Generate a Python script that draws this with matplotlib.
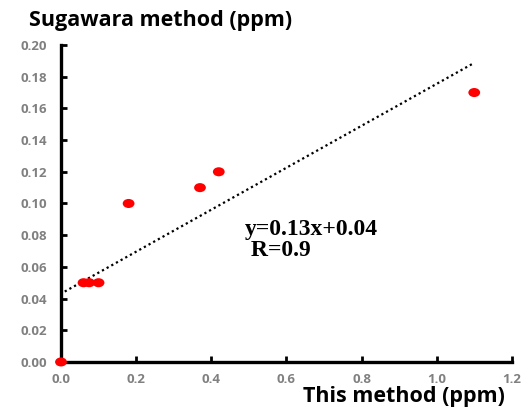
import matplotlib
matplotlib.use("Agg")
import matplotlib.pyplot as plt
import numpy as np
from matplotlib.path import Path
from matplotlib.transforms import Affine2D

# data
this_method = [0.0, 0.06, 0.075, 0.10, 0.18, 0.37, 0.42, 1.10]
sugawara = [0.0, 0.05, 0.05, 0.05, 0.10, 0.11, 0.12, 0.17]
x_ticks = [0.0, 0.2, 0.4, 0.6, 0.8, 1.0, 1.2]
y_ticks = [0.00, 0.02, 0.04, 0.06, 0.08, 0.10, 0.12, 0.14, 0.16, 0.18, 0.20]

plt.rcParams["font.family"] = ["Open Sans", "DejaVu Sans"]

fig = plt.figure(figsize=(5.23, 4.09), dpi=100)
ax = fig.add_axes([0.1166, 0.115, 0.862, 0.775])

# linear fit (dotted trend line)
slope, inter = np.polyfit(this_method, sugawara, 1)
xf = np.array([0.01, max(this_method)])
ax.plot(xf, slope * xf + inter, color="black", linestyle=(0, (1, 1.4)), linewidth=1.6)

# slightly wide ellipse markers
ell = Path.unit_circle().transformed(Affine2D().scale(1.3, 1.0))
ax.scatter(this_method, sugawara, s=72, marker=ell, color="#ff0000",
           edgecolors="none", zorder=3, clip_on=False)

ax.set_xlim(0, 1.2)
ax.set_ylim(0, 0.2)
ax.set_xticks(x_ticks)
ax.set_yticks(y_ticks)
ax.set_xticklabels(["%.1f" % v for v in x_ticks])
ax.set_yticklabels(["%.2f" % v for v in y_ticks])

for s in ["top", "right"]:
    ax.spines[s].set_visible(False)
for s in ["left", "bottom"]:
    ax.spines[s].set_linewidth(2.4)
ax.tick_params(direction="in", length=4, width=2, labelsize=9.5,
               labelcolor="#808080")
ax.tick_params(axis="y", pad=10)
ax.tick_params(axis="x", pad=8)
for lab in ax.get_xticklabels() + ax.get_yticklabels():
    lab.set_fontweight("bold")

fig.text(0.055, 0.95, "Sugawara method (ppm)", fontsize=15.5, fontweight="bold",
         ha="left", va="center")
fig.text(0.966, 0.03, "This method (ppm)", fontsize=15.5, fontweight="bold",
         ha="right", va="center")

ax.text(0.49, 0.077, "y=0.13x+0.04\n R=0.9", fontsize=17, fontweight="bold",
        family=["Liberation Serif"], ha="left", va="center", linespacing=1.0)

fig.savefig("out.png", dpi=100)
